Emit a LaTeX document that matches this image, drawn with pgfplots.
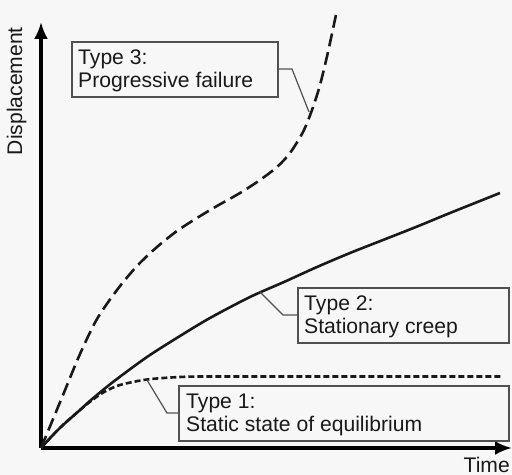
\documentclass[border=0pt]{standalone}
\usepackage{pgfplots}
\pgfplotsset{compat=1.18}
\usepackage{fontspec}
\setmainfont{Liberation Sans}
\usetikzlibrary{arrows.meta}
\definecolor{bg}{RGB}{247,247,247}
\definecolor{boxc}{RGB}{80,80,80}
\definecolor{txt}{RGB}{25,25,25}
\begin{document}
\begin{tikzpicture}
\begin{axis}[
  scale only axis, width=512bp, height=475bp,
  xmin=-41, xmax=471, ymin=-27, ymax=448,
  hide axis, clip=false,
  axis background/.style={fill=bg},
]
% axes
\addplot[line width=3.3bp, -{Latex[length=17bp,width=14bp]}] coordinates {(0,0) (471,0)};
\addplot[line width=3.3bp, -{Latex[length=17bp,width=14bp]}] coordinates {(0,0) (0,426)};
% Type 1: static state of equilibrium
\addplot[smooth, line width=2.6bp, dash pattern=on 6bp off 3bp, color=black!90] coordinates {
(0,0) (11,12) (22,23) (39,38) (50,47) (63,56) (79,63) (106,68.5) (139,71) (170,71.5) (300,71.5) (461,71.5)};
% Type 2: stationary creep
\addplot[smooth, line width=2.6bp, color=black!90] coordinates {
(0,0) (11,12) (22,23) (39,38) (50,48) (72,66) (106,91) (139,112) (169,130) (209,151) (243,166) (276,181) (309,195) (342,208) (375,221) (409,235) (459,255)};
% Type 3: progressive failure
\addplot[smooth, line width=2.6bp, dash pattern=on 13bp off 6bp, color=black!90] coordinates {
(0,0) (10,24) (22,53) (39,94) (56,129) (76,158) (96,182) (116,201) (136,217) (156,230) (176,242) (199,255) (219,268) (236,281) (249,295) (262,316) (271,338) (279,363) (287,396) (296,438)};
% boxes
\draw[boxc, line width=1.5bp] (axis cs:31,351) rectangle (axis cs:237,406);
\draw[boxc, line width=1.5bp] (axis cs:257,105) rectangle (axis cs:468,160);
\draw[boxc, line width=1.5bp] (axis cs:138,7) rectangle (axis cs:468,62);
% leaders
\draw[boxc, line width=1.2bp] (axis cs:237,379) -- (axis cs:251,379) -- (axis cs:268,336);
\draw[boxc, line width=1.2bp] (axis cs:257,133) -- (axis cs:242,133) -- (axis cs:219,156);
\draw[boxc, line width=1.2bp] (axis cs:138,35) -- (axis cs:126,35) -- (axis cs:106,68);
% texts
\tikzset{lab/.style={anchor=base west, inner sep=0pt, text=txt, font=\fontsize{21.2}{23}\selectfont}}
\node[lab] at (axis cs:37,383) {Type 3:};
\node[lab] at (axis cs:37,360) {Progressive failure};
\node[lab] at (axis cs:263,137) {Type 2:};
\node[lab] at (axis cs:263,114) {Stationary creep};
\node[lab] at (axis cs:145,39) {Type 1:};
\node[lab] at (axis cs:145,16) {Static state of equilibrium};
\node[lab, anchor=base east] at (axis cs:469,-24) {Time};
\node[lab, rotate=90, anchor=base east] at (axis cs:-19,421) {Displacement};
\end{axis}
\pgfresetboundingbox
\path (current axis.south west) rectangle (current axis.north east);
\end{tikzpicture}
\end{document}
